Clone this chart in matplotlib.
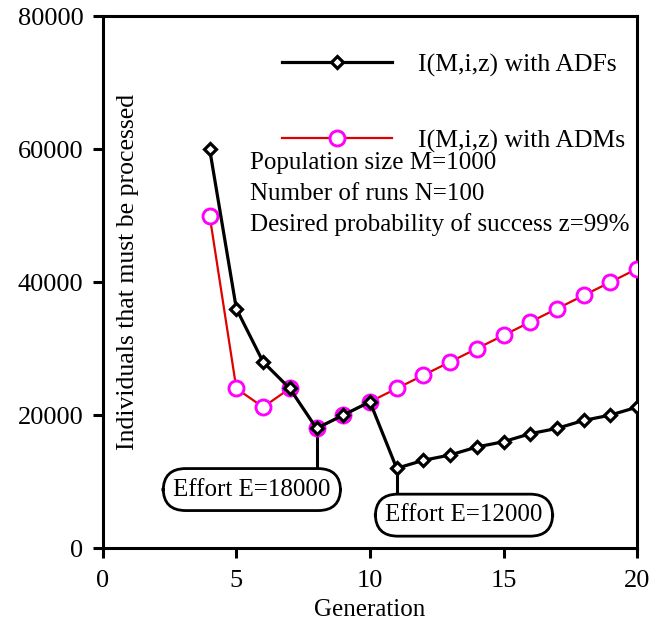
import matplotlib
matplotlib.use("Agg")
import matplotlib.pyplot as plt

plt.rcParams['font.family'] = ['Liberation Serif', 'DejaVu Serif']

generations = list(range(4, 21))
adf_values = [60000, 36000, 28000, 24000, 18000, 20000, 22000, 12000, 13200,
              14000, 15200, 16000, 17200, 18000, 19200, 20000, 21200]
adm_values = [50000, 24000, 21200, 24000, 18000, 20000, 22000, 24000, 26000,
              28000, 30000, 32000, 34000, 36000, 38000, 40000, 42000]
x_ticks = [0, 5, 10, 15, 20]
y_ticks = [0, 20000, 40000, 60000, 80000]
label_adf = "I(M,i,z) with ADFs"
label_adm = "I(M,i,z) with ADMs"
info_lines = ["Population size M=1000", "Number of runs N=100",
              "Desired probability of success z=99%"]
effort_points = [(8, 18000), (11, 12000)]
effort_labels = ["Effort E=18000", "Effort E=12000"]

fig = plt.figure(figsize=(6.63, 6.2), dpi=100)
ax = fig.add_axes([0.155, 0.116, 0.806, 0.858])

l2, = ax.plot(generations, adm_values, color='#e00000', lw=1.6, marker='o',
              markersize=10.8, markerfacecolor='white', markeredgecolor='#ff00ff',
              markeredgewidth=2.1, zorder=3, label=label_adm)
l1, = ax.plot(generations, adf_values, color='black', lw=2.3, marker='D',
              markersize=5.8, markerfacecolor='white', markeredgecolor='black',
              markeredgewidth=2.3, zorder=4, label=label_adf)

ax.set_xlim(0, 20)
ax.set_ylim(0, 80000)
ax.set_xticks(x_ticks)
ax.set_yticks(y_ticks)
ax.tick_params(direction='out', length=7, width=2.2, labelsize=19,
               top=False, right=False)
ax.tick_params(axis='x', pad=9)
ax.tick_params(axis='y', pad=7)
for s in ax.spines.values():
    s.set_linewidth(2.2)

ax.set_xlabel("Generation", fontsize=18, labelpad=0)
ax.xaxis.set_label_coords(0.5, -0.095)
ax.set_ylabel("Individuals that must be processed", fontsize=18.5)
ax.yaxis.set_label_coords(0.048, 0.52)
ax.yaxis.label.set_va('center')

leg = ax.legend(handles=[l1, l2], loc='upper left', bbox_to_anchor=(0.335, 0.93),
                frameon=False, fontsize=18.5, handlelength=4.3, handletextpad=1.0,
                labelspacing=2.05, borderpad=0, borderaxespad=0)

info_y = [57900, 53250, 48600]
for t, yy in zip(info_lines, info_y):
    ax.text(5.5, yy, t, fontsize=18, va='center', ha='left')

box_centers = [(5.58, 8800), (13.52, 4950)]
box_tops = [11400, 7650]
for (px, py), lab, (bx, by), bt in zip(effort_points, effort_labels, box_centers, box_tops):
    ax.plot([px, px], [py, bt], color='black', lw=2.2, zorder=2)
    ax.text(bx, by, lab, fontsize=18, ha='center', va='center', zorder=5,
            bbox=dict(boxstyle='round,pad=0.4,rounding_size=0.9', fc='white',
                      ec='black', lw=2.0))

fig.savefig("out.png", dpi=100)
